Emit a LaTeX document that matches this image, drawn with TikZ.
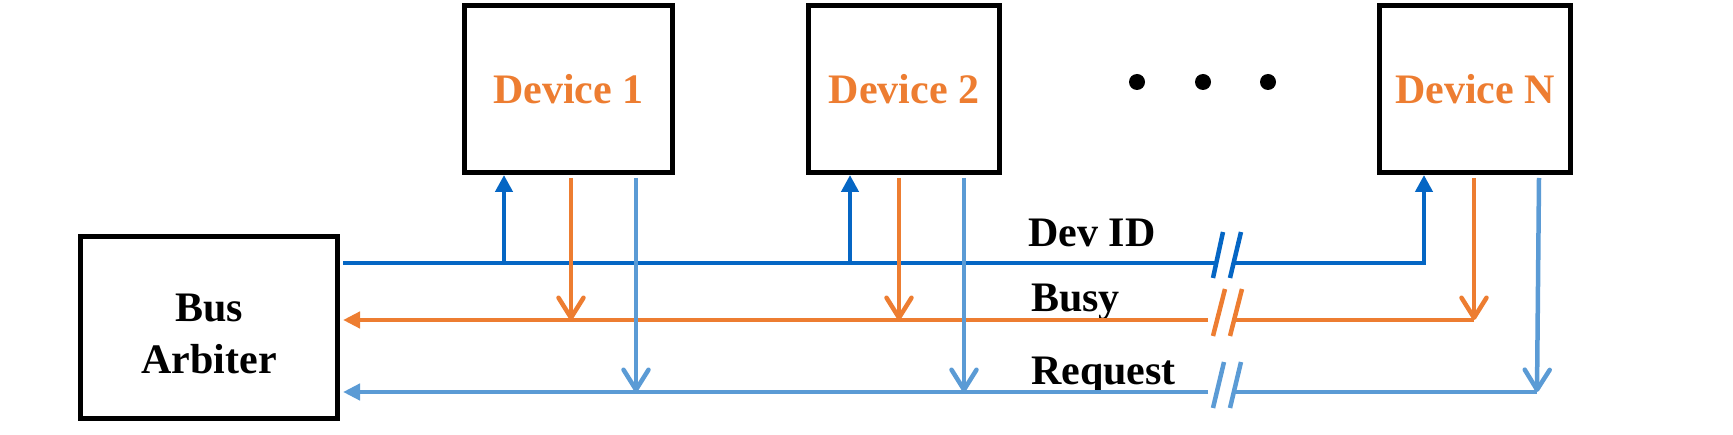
\documentclass[tikz,border=0pt]{standalone}
\usepackage{fontspec}
\setmainfont{Liberation Serif}
\usetikzlibrary{arrows.meta}
\definecolor{idblue}{RGB}{5,102,196}
\definecolor{busyor}{RGB}{237,125,49}
\definecolor{reqblue}{RGB}{91,155,213}
\begin{document}
\begin{tikzpicture}[x=1pt,y=-1pt,
  bigfont/.style={font=\bfseries\fontsize{42}{52}\selectfont},
  devbox/.style={draw=black, line width=5pt, inner sep=0pt, minimum height=167pt, text=busyor, bigfont},
  arbbox/.style={draw=black, line width=5pt, inner sep=0pt, minimum width=257pt, minimum height=182pt},
  lbl/.style={bigfont, inner sep=0pt, text=black},
  dotnode/.style={circle, fill=black, inner sep=0pt, minimum size=16pt},
  idline/.style={draw=idblue, line width=4.5pt},
  busyline/.style={draw=busyor, line width=4.5pt},
  reqline/.style={draw=reqblue, line width=4.5pt},
  uptip/.style={-{Triangle[length=17pt,width=17pt]}},
  intip/.style={-{Triangle[length=17pt,width=16pt]}},
  barb/.style={-{Straight Barb[length=20pt,width=25pt,round]}}
]
\useasboundingbox (0,0) rectangle (1733,435);

% boxes
\node[devbox, minimum width=208pt] (dev1) at (568.5,89) {Device 1};
\node[devbox, minimum width=191pt] (dev2) at (904,89) {Device 2};
\node[devbox, minimum width=191pt] (devN) at (1475,89) {Device N};
\node[arbbox, label={[lbl, align=center, yshift=-6.5pt]center:{Bus\\Arbiter}}] (arbiter) at (209,327.5) {};

% dots
\node[dotnode] (dot1) at (1137,82) {};
\node[dotnode] (dot2) at (1203,82) {};
\node[dotnode] (dot3) at (1268,82) {};

% bus labels
\node[lbl, anchor=base west] (lid) at (1028,247) {Dev ID};
\node[lbl, anchor=base west] (lbusy) at (1031,312) {Busy};
\node[lbl, anchor=base west] (lreq) at (1031,385) {Request};

% coordinates on buses
\coordinate (id1) at (504,263);
\coordinate (id2) at (850,263);
\coordinate (idN) at (1424,263);
\coordinate (idB1) at (1216,263);
\coordinate (idB2) at (1234,263);

\coordinate (busy1) at (571,320);
\coordinate (busy2) at (899,320);
\coordinate (busyN) at (1474,320);
\coordinate (busyB1) at (1208,320);
\coordinate (busyB2) at (1235,320);

\coordinate (req1) at (636,392);
\coordinate (req2) at (964,392);
\coordinate (reqN) at (1537,392);
\coordinate (reqNtop) at (1539,178);
\coordinate (reqB1) at (1208,392);
\coordinate (reqB2) at (1235,392);

% Dev ID bus
\draw[idline, shorten <=3pt] (arbiter.east |- id1) -- (idB1);
\draw[idline, uptip, line join=miter] (idB2) -- (idN) -- (idN |- devN.south);
\draw[idline, uptip] (id1) -- (id1 |- dev1.south);
\draw[idline, uptip] (id2) -- (id2 |- dev2.south);

% Busy bus
\draw[busyline, intip, shorten >=3pt] (busyB1) -- (arbiter.east |- busy1);
\draw[busyline] (busyN) -- (busyB2);
\draw[busyline, barb, shorten <=3pt] (busy1 |- dev1.south) -- (busy1);
\draw[busyline, barb, shorten <=3pt] (busy2 |- dev2.south) -- (busy2);
\draw[busyline, barb, shorten <=3pt] (busyN |- devN.south) -- (busyN);

% Request bus
\draw[reqline, intip, shorten >=3pt] (reqB1) -- (arbiter.east |- req1);
\draw[reqline] (reqN) -- (reqB2);
\draw[reqline, barb, shorten <=3pt] (req1 |- dev1.south) -- (req1);
\draw[reqline, barb, shorten <=3pt] (req2 |- dev2.south) -- (req2);
\draw[reqline, barb] (reqNtop) -- (reqN);

% break marks
\draw[idblue, line width=4.5pt] (1223,232) -- (1213,278);
\draw[idblue, line width=4.5pt] (1241,232) -- (1230,278);
\draw[busyor, line width=4.5pt] (1225,289) -- (1213,336);
\draw[busyor, line width=4.5pt] (1242,289) -- (1230,336);
\draw[reqblue, line width=4.5pt] (1224,362) -- (1213,408);
\draw[reqblue, line width=4.5pt] (1241,362) -- (1230,408);
\end{tikzpicture}
\end{document}
